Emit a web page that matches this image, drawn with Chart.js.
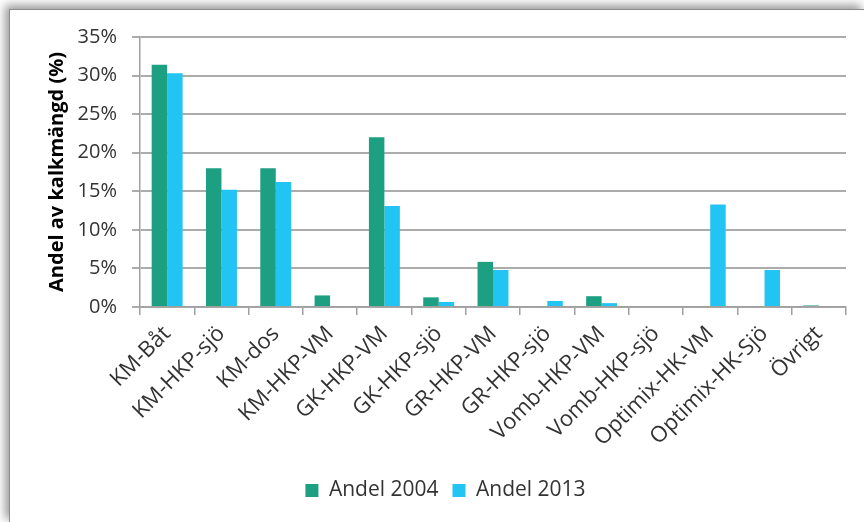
<!DOCTYPE html>
<html>
<head>
<meta charset="utf-8">
<script src="https://cdn.jsdelivr.net/npm/chart.js@4.4.1/dist/chart.umd.min.js"></script>
<style>
    html, body { margin: 0; padding: 0; background: #fff; }
    body { width: 864px; height: 522px; overflow: hidden; position: relative; }
    .frame {
        position: absolute; left: 9px; top: 9px; width: 855px; height: 513px;
        border-left: 1px solid #8c8c8c; border-top: 1px solid #8c8c8c;
        box-shadow: -4px -4px 9px rgba(0, 0, 0, 0.4);
        background: #fff;
    }
    canvas { display: block; }
</style>
</head>
<body>
<div class="frame">
    <canvas id="kalk-chart" width="854" height="512"></canvas>
</div>
<script>
// Andel av kalkmängd per spridningsmetod (%)
const categories = [
    'KM-Båt', 'KM-HKP-sjö', 'KM-dos', 'KM-HKP-VM', 'GK-HKP-VM', 'GK-HKP-sjö',
    'GR-HKP-VM', 'GR-HKP-sjö', 'Vomb-HKP-VM', 'Vomb-HKP-sjö',
    'Optimix-HK-VM', 'Optimix-HK-Sjö', 'Övrigt'
];
const andel2004 = [31.4, 18.0, 18.0, 1.5, 22.0, 1.25, 5.85, 0, 1.4, 0, 0, 0, 0.2];
const andel2013 = [30.3, 15.2, 16.2, 0, 13.1, 0.65, 4.8, 0.78, 0.5, 0, 13.3, 4.8, 0];
const yTicks = [0, 5, 10, 15, 20, 25, 30, 35];

const textColor = '#333333';
const gridColor = '#acacac';

document.addEventListener('DOMContentLoaded', function() {
    const ctx = document.getElementById('kalk-chart');
    new Chart(ctx, {
        type: 'bar',
        data: {
            labels: categories,
            datasets: [{
                label: 'Andel 2004',
                data: andel2004,
                backgroundColor: '#1d9f82',
                borderWidth: 0,
                categoryPercentage: 0.57,
                barPercentage: 1.0
            }, {
                label: 'Andel 2013',
                data: andel2013,
                backgroundColor: '#22c4f3',
                borderWidth: 0,
                categoryPercentage: 0.57,
                barPercentage: 1.0
            }]
        },
        options: {
            responsive: false,
            animation: false,
            layout: {
                padding: { left: 35, right: 18, top: 26, bottom: 11 }
            },
            plugins: {
                tooltip: { enabled: false },
                legend: {
                    position: 'bottom',
                    labels: {
                        boxWidth: 13,
                        boxHeight: 13,
                        padding: 14,
                        color: textColor,
                        font: { family: 'Open Sans', size: 21 }
                    }
                }
            },
            scales: {
                x: {
                    afterFit: function(scale) { scale.height = 159; },
                    grid: {
                        offset: true,
                        drawOnChartArea: false,
                        tickLength: 8,
                        color: '#a0a0a0',
                        lineWidth: 1.5
                    },
                    border: { color: '#a0a0a0', width: 1.5 },
                    ticks: {
                        minRotation: 45,
                        maxRotation: 45,
                        autoSkip: false,
                        padding: 6,
                        color: textColor,
                        font: { family: 'Open Sans', size: 22 }
                    }
                },
                y: {
                    min: 0,
                    max: 35,
                    afterFit: function(scale) { scale.width = 95; },
                    afterBuildTicks: function(scale) {
                        scale.ticks = yTicks.map(v => ({ value: v }));
                    },
                    grid: {
                        color: gridColor,
                        lineWidth: 2,
                        tickLength: 8
                    },
                    border: { color: '#a0a0a0', width: 1.5 },
                    ticks: {
                        padding: 15,
                        color: textColor,
                        font: { family: 'Open Sans', size: 20 },
                        callback: function(value) { return value + '%'; }
                    },
                    title: {
                        display: true,
                        text: 'Andel av kalkmängd (%)',
                        color: '#000',
                        padding: 0,
                        font: { family: 'Open Sans', size: 20, weight: 'bold' }
                    }
                }
            }
        }
    });
});
</script>
</body>
</html>
